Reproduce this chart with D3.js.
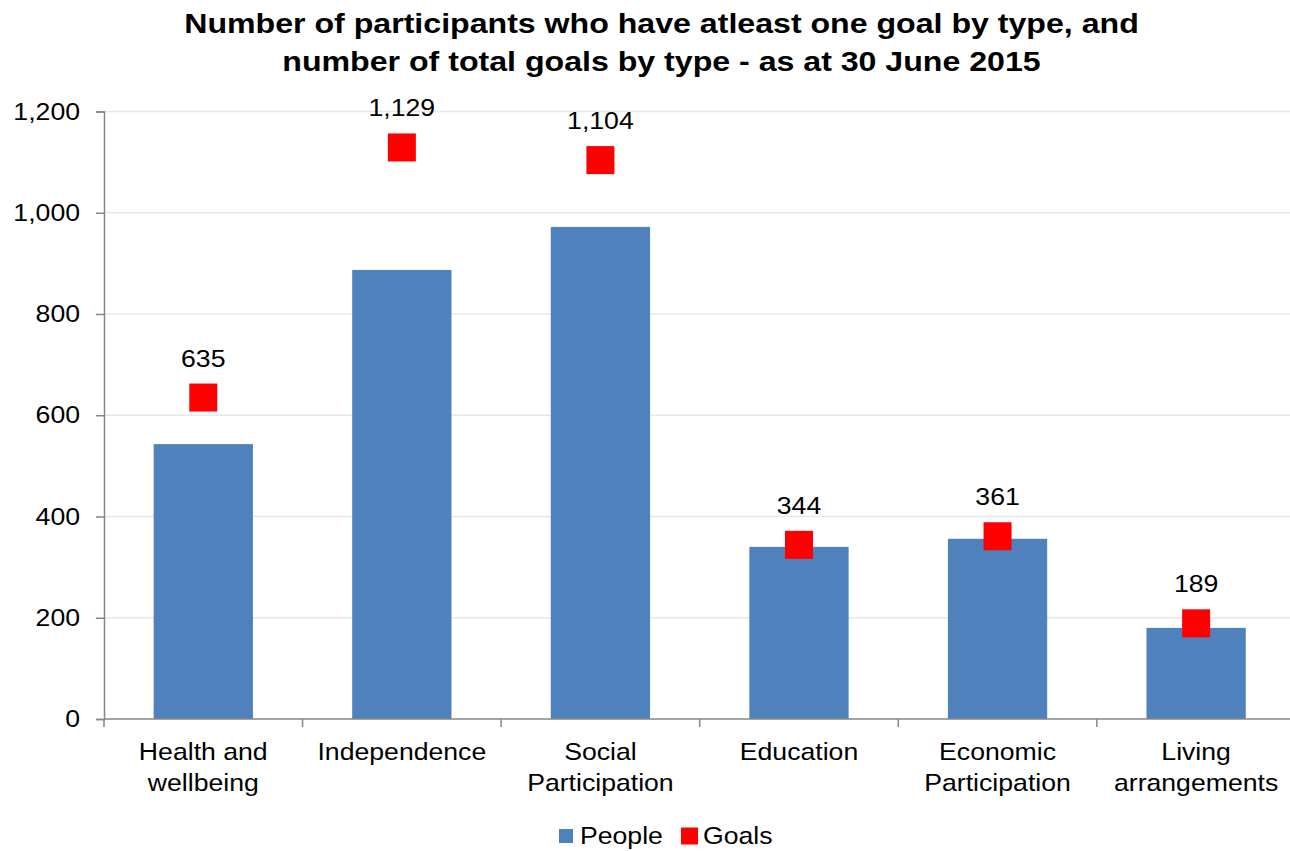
<!DOCTYPE html>
<html>
<head>
<meta charset="utf-8">
<script src="https://cdn.jsdelivr.net/npm/d3@7"></script>
<style>
  html, body { margin: 0; padding: 0; background: #ffffff; }
  svg { display: block; font-family: "Liberation Sans", Arial, sans-serif; }
</style>
</head>
<body>
<svg id="chart" width="1290" height="851"></svg>
<script>
// Goal types and counts, as at 30 June 2015
const categories = [
  ["Health and", "wellbeing"],
  ["Independence"],
  ["Social", "Participation"],
  ["Education"],
  ["Economic", "Participation"],
  ["Living", "arrangements"]
];
const people = [543, 887, 972, 340, 356, 180];
const goals = [635, 1129, 1104, 344, 361, 189];
const yTicks = [0, 200, 400, 600, 800, 1000, 1200];
const titleLines = [
  "Number of participants who have atleast one goal by type, and",
  "number of total goals by type - as at 30 June 2015"
];
const seriesNames = ["People", "Goals"];

const svg = d3.select("#chart");
const plotLeft = 104, plotRight = 1295.4, plotTop = 111.5, plotBottom = 719;
const keys = categories.map((c, i) => i);

const x = d3.scaleBand().domain(keys).range([plotLeft, plotRight])
  .paddingInner(0.5).paddingOuter(0.25);
const xEdge = d3.scaleBand().domain(keys).range([plotLeft, plotRight]).padding(0);
const y = d3.scaleLinear().domain([0, 1200]).range([plotBottom, plotTop]);

const axisColor = "#868686";
const fmt = d3.format(",");

// widen glyphs horizontally about an anchor x (wide GDI-style Arial look)
const textStretch = 1.11;
function stretch(sel, ax, sx) {
  sel.attr("transform", `translate(${ax},0) scale(${sx},1) translate(${-ax},0)`);
}

// horizontal gridlines
svg.append("g").selectAll("line")
  .data(yTicks.filter(t => t > 0))
  .join("line")
  .attr("x1", plotLeft).attr("x2", 1290)
  .attr("y1", d => y(d)).attr("y2", d => y(d))
  .attr("stroke", "#e8e8e8").attr("stroke-width", 1.3);

// people bars
svg.append("g").selectAll("rect")
  .data(people)
  .join("rect")
  .attr("x", (d, i) => x(i))
  .attr("width", x.bandwidth())
  .attr("y", d => y(d))
  .attr("height", d => plotBottom - y(d))
  .attr("fill", "#4f81bd");

// y axis
const yAxis = svg.append("g")
  .attr("transform", `translate(${plotLeft},0)`)
  .call(d3.axisLeft(y).tickValues(yTicks).tickFormat(fmt).tickSize(8).tickPadding(16));
yAxis.select(".domain").attr("stroke", axisColor).attr("stroke-width", 1.5);
yAxis.selectAll(".tick line").attr("stroke", axisColor).attr("stroke-width", 1.5);
yAxis.selectAll(".tick text")
  .attr("font-size", 24).attr("fill", "#000")
  .attr("font-family", "Liberation Sans, Arial, sans-serif")
  .call(stretch, -24, textStretch);

// x axis baseline and category ticks
const xAxis = svg.append("g");
xAxis.append("line")
  .attr("x1", plotLeft).attr("x2", 1290)
  .attr("y1", plotBottom).attr("y2", plotBottom)
  .attr("stroke", axisColor).attr("stroke-width", 1.5);
xAxis.selectAll("line.tick")
  .data(keys.concat([keys.length]))
  .join("line")
  .attr("class", "tick")
  .attr("x1", d => d < keys.length ? xEdge(d) : plotRight)
  .attr("x2", d => d < keys.length ? xEdge(d) : plotRight)
  .attr("y1", plotBottom).attr("y2", plotBottom + 8)
  .attr("stroke", axisColor).attr("stroke-width", 1.5);

// category labels
const catText = svg.append("g").selectAll("text")
  .data(categories)
  .join("text")
  .attr("text-anchor", "middle")
  .attr("font-size", 24)
  .attr("fill", "#000");
catText.each(function(lines, i) {
  const t = d3.select(this);
  const cx = x(i) + x.bandwidth() / 2;
  lines.forEach((ln, j) => {
    t.append("tspan").attr("x", cx).attr("y", 760 + j * 31).text(ln);
  });
  stretch(t, cx, textStretch);
});

// goals markers
const marker = 28;
svg.append("g").selectAll("rect")
  .data(goals)
  .join("rect")
  .attr("x", (d, i) => x(i) + x.bandwidth() / 2 - marker / 2)
  .attr("y", d => y(d) - marker / 2)
  .attr("width", marker).attr("height", marker)
  .attr("fill", "#ff0000");

// goals value labels
svg.append("g").selectAll("text")
  .data(goals)
  .join("text")
  .attr("x", (d, i) => x(i) + x.bandwidth() / 2)
  .attr("y", d => y(d) - 31)
  .attr("text-anchor", "middle")
  .attr("font-size", 24)
  .attr("fill", "#000")
  .text(d => fmt(d))
  .each(function(d, i) { stretch(d3.select(this), x(i) + x.bandwidth() / 2, textStretch); });

// title
svg.append("g").selectAll("text")
  .data(titleLines)
  .join("text")
  .attr("x", 661.5)
  .attr("y", (d, i) => 33 + i * 38.5)
  .attr("text-anchor", "middle")
  .attr("font-size", 27)
  .attr("font-weight", "bold")
  .attr("fill", "#000")
  .text(d => d)
  .call(stretch, 661.5, 1.19);

// legend
const legend = svg.append("g");
const legendItems = [
  { name: seriesNames[0], color: "#4f81bd", sx: 559, size: 14, tx: 580 },
  { name: seriesNames[1], color: "#ff0000", sx: 681, size: 17, tx: 703 }
];
legendItems.forEach(it => {
  legend.append("rect")
    .attr("x", it.sx).attr("y", 836 - it.size / 2)
    .attr("width", it.size).attr("height", it.size)
    .attr("fill", it.color);
  legend.append("text")
    .attr("x", it.tx).attr("y", 844)
    .attr("font-size", 24).attr("fill", "#000")
    .text(it.name)
    .call(stretch, it.tx, textStretch);
});
</script>
</body>
</html>
